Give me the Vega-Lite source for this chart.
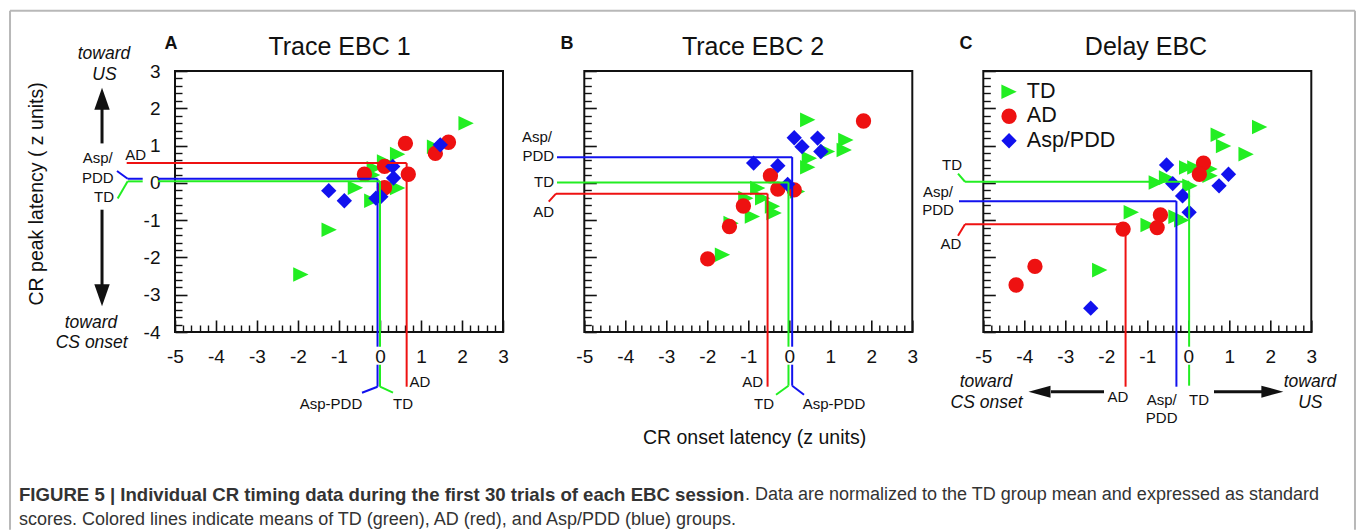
{
  "$schema": "https://vega.github.io/schema/vega-lite/v6.json",
  "background": "white",
  "autosize": {"type": "pad"},
  "padding": {"left": 8, "top": 8, "right": 0, "bottom": 0},
  "config": {
    "font": "Liberation Sans",
    "view": {"stroke": "#111", "strokeWidth": 2},
    "axis": {"grid": false, "domain": false, "labelColor": "#111", "tickColor": "#111", "titleColor": "#111", "titleFontWeight": "normal"}
  },
  "datasets": {
    "ptsA": [
      {"group": "TD", "onset": 2.10, "peak": 1.60}, {"group": "TD", "onset": -1.93, "peak": -2.46}, {"group": "TD", "onset": -1.24, "peak": -1.26},
      {"group": "TD", "onset": -0.60, "peak": -0.13}, {"group": "TD", "onset": -0.20, "peak": -0.48}, {"group": "TD", "onset": -0.14, "peak": 0.39},
      {"group": "TD", "onset": 0.11, "peak": 0.57}, {"group": "TD", "onset": 0.43, "peak": 0.77}, {"group": "TD", "onset": 0.43, "peak": -0.14},
      {"group": "TD", "onset": 1.33, "peak": 0.97}, {"group": "TD", "onset": -0.18, "peak": 0.21},
      {"group": "AD", "onset": 0.62, "peak": 1.06}, {"group": "AD", "onset": 1.67, "peak": 1.09}, {"group": "AD", "onset": 1.35, "peak": 0.79},
      {"group": "AD", "onset": -0.38, "peak": 0.23}, {"group": "AD", "onset": 0.11, "peak": 0.44}, {"group": "AD", "onset": 0.69, "peak": 0.23},
      {"group": "AD", "onset": 0.11, "peak": -0.13},
      {"group": "Asp/PDD", "onset": 1.47, "peak": 1.02}, {"group": "Asp/PDD", "onset": 0.31, "peak": 0.44}, {"group": "Asp/PDD", "onset": 0.33, "peak": 0.13},
      {"group": "Asp/PDD", "onset": -1.25, "peak": -0.21}, {"group": "Asp/PDD", "onset": -0.87, "peak": -0.48}, {"group": "Asp/PDD", "onset": -0.10, "peak": -0.41},
      {"group": "Asp/PDD", "onset": 0.02, "peak": -0.37}
    ],
    "ptsB": [
      {"group": "TD", "onset": 0.45, "peak": 1.69}, {"group": "TD", "onset": 1.38, "peak": 1.15}, {"group": "TD", "onset": 1.34, "peak": 0.88},
      {"group": "TD", "onset": 0.93, "peak": 0.84}, {"group": "TD", "onset": 0.49, "peak": 0.66}, {"group": "TD", "onset": 0.45, "peak": 0.42},
      {"group": "TD", "onset": -0.77, "peak": -0.14}, {"group": "TD", "onset": -1.06, "peak": -0.41}, {"group": "TD", "onset": -0.65, "peak": -0.41},
      {"group": "TD", "onset": -0.41, "peak": -0.63}, {"group": "TD", "onset": -0.37, "peak": -0.81}, {"group": "TD", "onset": -0.90, "peak": -0.90},
      {"group": "TD", "onset": -1.42, "peak": -1.08}, {"group": "TD", "onset": -1.63, "peak": -1.93}, {"group": "TD", "onset": 0.20, "peak": -0.23},
      {"group": "AD", "onset": 1.81, "peak": 1.66}, {"group": "AD", "onset": -0.46, "peak": 0.19}, {"group": "AD", "onset": -0.28, "peak": -0.17},
      {"group": "AD", "onset": 0.12, "peak": -0.19}, {"group": "AD", "onset": -1.12, "peak": -0.62}, {"group": "AD", "onset": -1.46, "peak": -1.17},
      {"group": "AD", "onset": -1.99, "peak": -2.04},
      {"group": "Asp/PDD", "onset": 0.12, "peak": 1.21}, {"group": "Asp/PDD", "onset": 0.31, "peak": 0.97}, {"group": "Asp/PDD", "onset": 0.69, "peak": 1.20},
      {"group": "Asp/PDD", "onset": 0.77, "peak": 0.84}, {"group": "Asp/PDD", "onset": -0.87, "peak": 0.53}, {"group": "Asp/PDD", "onset": -0.28, "peak": 0.46},
      {"group": "Asp/PDD", "onset": -0.04, "peak": -0.04}
    ],
    "ptsC": [
      {"group": "TD", "onset": 1.74, "peak": 1.50}, {"group": "TD", "onset": 0.73, "peak": 1.29}, {"group": "TD", "onset": 0.86, "peak": 0.99},
      {"group": "TD", "onset": 1.41, "peak": 0.77}, {"group": "TD", "onset": -0.04, "peak": 0.41}, {"group": "TD", "onset": 0.16, "peak": 0.41},
      {"group": "TD", "onset": 0.53, "peak": 0.37}, {"group": "TD", "onset": 0.53, "peak": 0.19}, {"group": "TD", "onset": -0.78, "peak": 0.01},
      {"group": "TD", "onset": -0.53, "peak": 0.14}, {"group": "TD", "onset": 0.04, "peak": -0.08}, {"group": "TD", "onset": -1.39, "peak": -0.79},
      {"group": "TD", "onset": -0.98, "peak": -1.13}, {"group": "TD", "onset": -0.30, "peak": -0.91}, {"group": "TD", "onset": -0.16, "peak": -1.00},
      {"group": "TD", "onset": -2.16, "peak": -2.34},
      {"group": "AD", "onset": 0.37, "peak": 0.53}, {"group": "AD", "onset": 0.27, "peak": 0.23}, {"group": "AD", "onset": -0.68, "peak": -0.86},
      {"group": "AD", "onset": -0.76, "peak": -1.20}, {"group": "AD", "onset": -1.59, "peak": -1.24}, {"group": "AD", "onset": -3.74, "peak": -2.24},
      {"group": "AD", "onset": -4.20, "peak": -2.74},
      {"group": "Asp/PDD", "onset": -0.53, "peak": 0.48}, {"group": "Asp/PDD", "onset": -0.38, "peak": -0.02}, {"group": "Asp/PDD", "onset": -0.14, "peak": -0.35},
      {"group": "Asp/PDD", "onset": 0.02, "peak": -0.79}, {"group": "Asp/PDD", "onset": 0.98, "peak": 0.23}, {"group": "Asp/PDD", "onset": 0.75, "peak": -0.08},
      {"group": "Asp/PDD", "onset": -2.38, "peak": -3.36}
    ],
    "linesA": [
      {"group": "AD", "x": -6.178, "y": 0.53, "x2": 0.65, "y2": 0.53},
      {"group": "AD", "x": 0.65, "y": 0.53, "x2": 0.65, "y2": -5.467},
      {"group": "Asp/PDD", "x": -6.415, "y": 0.318, "x2": -6.154, "y2": 0.11},
      {"group": "Asp/PDD", "x": -6.154, "y": 0.11, "x2": -5.788, "y2": 0.11},
      {"group": "Asp/PDD", "x": -5.415, "y": 0.11, "x2": -0.06, "y2": 0.11},
      {"group": "Asp/PDD", "x": -0.06, "y": 0.11, "x2": -0.06, "y2": -4.394},
      {"group": "Asp/PDD", "x": -0.06, "y": -4.877, "x2": -0.06, "y2": -5.467},
      {"group": "Asp/PDD", "x": -0.06, "y": -5.467, "x2": -0.439, "y2": -5.628},
      {"group": "TD", "x": -6.398, "y": -0.417, "x2": -6.154, "y2": 0.04},
      {"group": "TD", "x": -6.154, "y": 0.04, "x2": -5.788, "y2": 0.04},
      {"group": "TD", "x": -5.415, "y": 0.04, "x2": 0.0, "y2": 0.04},
      {"group": "TD", "x": 0.0, "y": 0.04, "x2": 0.0, "y2": -4.394},
      {"group": "TD", "x": 0.0, "y": -4.877, "x2": 0.0, "y2": -5.467},
      {"group": "TD", "x": 0.0, "y": -5.467, "x2": 0.317, "y2": -5.628}
    ],
    "linesB": [
      {"group": "Asp/PDD", "x": -5.666, "y": 0.69, "x2": 0.07, "y2": 0.69},
      {"group": "Asp/PDD", "x": 0.07, "y": 0.69, "x2": 0.07, "y2": -4.394},
      {"group": "Asp/PDD", "x": 0.07, "y": -4.877, "x2": 0.07, "y2": -5.44},
      {"group": "Asp/PDD", "x": 0.07, "y": -5.44, "x2": 0.359, "y2": -5.682},
      {"group": "TD", "x": -5.666, "y": 0.01, "x2": -0.02, "y2": 0.01},
      {"group": "TD", "x": -0.02, "y": 0.01, "x2": -0.02, "y2": -4.394},
      {"group": "TD", "x": -0.02, "y": -4.877, "x2": -0.02, "y2": -5.44},
      {"group": "TD", "x": -0.02, "y": -5.44, "x2": -0.324, "y2": -5.682},
      {"group": "AD", "x": -5.868, "y": -0.505, "x2": -5.69, "y2": -0.29},
      {"group": "AD", "x": -5.69, "y": -0.29, "x2": -0.53, "y2": -0.29},
      {"group": "AD", "x": -0.53, "y": -0.29, "x2": -0.53, "y2": -5.467}
    ],
    "linesC": [
      {"group": "TD", "x": -5.617, "y": 0.246, "x2": -5.446, "y2": 0.03},
      {"group": "TD", "x": -5.446, "y": 0.03, "x2": 0.02, "y2": 0.03},
      {"group": "TD", "x": 0.02, "y": 0.03, "x2": 0.02, "y2": -4.394},
      {"group": "TD", "x": 0.02, "y": -4.877, "x2": 0.02, "y2": -5.44},
      {"group": "Asp/PDD", "x": -5.593, "y": -0.49, "x2": -0.29, "y2": -0.49},
      {"group": "Asp/PDD", "x": -0.29, "y": -0.49, "x2": -0.29, "y2": -5.467},
      {"group": "AD", "x": -5.617, "y": -1.417, "x2": -5.446, "y2": -1.11},
      {"group": "AD", "x": -5.446, "y": -1.11, "x2": -1.53, "y2": -1.11},
      {"group": "AD", "x": -1.53, "y": -1.11, "x2": -1.53, "y2": -5.467}
    ],
    "textA": [
      {"label": "AD", "x": -5.961, "y": 0.755}, {"label": "Asp/", "x": -6.885, "y": 0.656}, {"label": "PDD", "x": -6.885, "y": 0.138},
      {"label": "TD", "x": -6.732, "y": -0.371}, {"label": "AD", "x": 0.976, "y": -5.333}, {"label": "Asp-PDD", "x": -1.195, "y": -5.923},
      {"label": "TD", "x": 0.561, "y": -5.923}
    ],
    "italA": [
      {"label": "toward", "x": -6.732, "y": 3.464}, {"label": "US", "x": -6.72, "y": 2.901},
      {"label": "toward", "x": -7.049, "y": -3.769}, {"label": "CS onset", "x": -7.032, "y": -4.306}
    ],
    "letterA": [{"label": "A", "x": -5.098, "y": 3.732}],
    "headA": [{"label": "Trace EBC 1", "x": -0.988, "y": 3.652}],
    "shaftA": [{"x": -6.78, "y": 1.058, "x2": -6.78, "y2": 2.016}, {"x": -6.78, "y": -0.72, "x2": -6.78, "y2": -2.758}],
    "headUpA": [{"x": -6.78, "y": 2.257}],
    "headDownA": [{"x": -6.78, "y": -3.013}],
    "frame": [
      {"x": -9.024, "y": 4.617, "x2": -9.024, "y2": -9.302},
      {"x": -9.024, "y": 4.617, "x2": 23.78, "y2": 4.617},
      {"x": 23.78, "y": 4.617, "x2": 23.78, "y2": -9.302}
    ],
    "capBold": [{"label": "FIGURE 5 | Individual CR timing data during the first 30 trials of each EBC session", "x": -8.805, "y": -8.364}],
    "capNormal": [
      {"label": ". Data are normalized to the TD group mean and expressed as standard", "x": 8.902, "y": -8.364},
      {"label": "scores. Colored lines indicate means of TD (green), AD (red), and Asp/PDD (blue) groups.", "x": -8.805, "y": -9.034}
    ],
    "textB": [
      {"label": "Asp/", "x": -6.154, "y": 1.238}, {"label": "PDD", "x": -6.124, "y": 0.728}, {"label": "TD", "x": -5.983, "y": 0.012},
      {"label": "AD", "x": -5.993, "y": -0.774}, {"label": "AD", "x": -0.895, "y": -5.333}, {"label": "TD", "x": -0.617, "y": -5.923},
      {"label": "Asp-PDD", "x": 1.09, "y": -5.923}
    ],
    "letterB": [{"label": "B", "x": -5.422, "y": 3.732}],
    "headB": [{"label": "Trace EBC 2", "x": -0.885, "y": 3.652}],
    "textC": [
      {"label": "TD", "x": -5.763, "y": 0.487}, {"label": "Asp/", "x": -6.105, "y": -0.237}, {"label": "PDD", "x": -6.105, "y": -0.72},
      {"label": "AD", "x": -5.788, "y": -1.632}, {"label": "AD", "x": -1.715, "y": -5.735}, {"label": "Asp/", "x": -0.649, "y": -5.816},
      {"label": "PDD", "x": -0.649, "y": -6.317}, {"label": "TD", "x": 0.261, "y": -5.816}
    ],
    "italC": [
      {"label": "toward", "x": -4.934, "y": -5.333}, {"label": "CS onset", "x": -4.922, "y": -5.896},
      {"label": "toward", "x": 2.968, "y": -5.333}, {"label": "US", "x": 2.976, "y": -5.896}
    ],
    "letterC": [{"label": "C", "x": -5.422, "y": 3.732}],
    "headC": [{"label": "Delay EBC", "x": -1.032, "y": 3.652}],
    "shaftC": [{"x": -2.056, "y": -5.601, "x2": -3.349, "y2": -5.601}, {"x": 0.627, "y": -5.601, "x2": 1.798, "y2": -5.601}],
    "headLeftC": [{"x": -3.629, "y": -5.601}],
    "headRightC": [{"x": 2.05, "y": -5.601}]
  },
  "bounds": "flush",
  "spacing": 81.3,
  "resolve": {"scale": {"color": "independent", "shape": "independent"}},
  "hconcat": [
    {
      "width": 328, "height": 261,
      "resolve": {"axis": {"x": "independent", "y": "independent"}},
      "layer": [
        {
          "data": {"name": "ptsA"},
          "mark": {"type": "point", "filled": true, "opacity": 1, "strokeWidth": 0, "size": 235},
          "encoding": {
            "x": {"field": "onset", "type": "quantitative", "scale": {"domain": [-5, 3], "nice": false, "zero": false},
              "axis": {"orient": "bottom", "values": [-5, -4, -3, -2, -1, 0, 1, 2, 3], "ticks": false, "tickSize": 0, "labelFontSize": 19, "labelPadding": 15, "labelFlush": false, "labelOverlap": false, "labelExpr": "toString(datum.value)", "title": null}},
            "y": {"field": "peak", "type": "quantitative", "scale": {"domain": [-4, 3], "nice": false, "zero": false},
              "axis": {"orient": "left", "values": [-4, -3, -2, -1, 0, 1, 2, 3], "ticks": false, "tickSize": 0, "labelFontSize": 19, "labelPadding": 15, "labelFlush": false, "labelOverlap": false, "labelExpr": "toString(datum.value)",
                "title": "CR peak latency ( z units)", "titleFontSize": 19.5, "titleX": -139, "titleY": 122.4, "titleAngle": 270, "titleAlign": "center", "titleBaseline": "middle"}},
            "color": {"field": "group", "type": "nominal", "scale": {"domain": ["TD", "AD", "Asp/PDD"], "range": ["#22ee22", "#ee1111", "#1111ee"]}, "legend": null},
            "shape": {"field": "group", "type": "nominal", "scale": {"domain": ["TD", "AD", "Asp/PDD"], "range": ["M-1,-0.95L1,0L-1,0.95Z", "circle", "diamond"]}, "legend": null}
          }
        },
        {
          "data": {"name": "linesA"},
          "mark": {"type": "rule", "strokeWidth": 2},
          "encoding": {
            "x": {"field": "x", "type": "quantitative", "scale": {"domain": [-5, 3], "nice": false, "zero": false},
              "axis": {"orient": "bottom", "values": [-5, -4, -3, -2, -1, 0, 1, 2, 3], "labels": false, "tickSize": -12, "tickWidth": 1.6, "title": null}},
            "y": {"field": "y", "type": "quantitative", "scale": {"domain": [-4, 3], "nice": false, "zero": false},
              "axis": {"orient": "left", "values": [-4, -3, -2, -1, 0, 1, 2, 3], "labels": false, "tickSize": -12, "tickWidth": 1.6, "title": null}},
            "x2": {"field": "x2"}, "y2": {"field": "y2"},
            "color": {"field": "group", "type": "nominal", "scale": {"domain": ["TD", "AD", "Asp/PDD"], "range": ["#22ee22", "#ee1111", "#1111ee"]}, "legend": null}
          }
        },
        {
          "data": {"name": "textA"},
          "mark": {"type": "text", "fontSize": 15, "color": "#111", "align": "center", "baseline": "middle"},
          "encoding": {
            "x": {"field": "x", "type": "quantitative", "scale": {"domain": [-5, 3], "nice": false, "zero": false},
              "axis": {"orient": "bottom", "values": [-4.8, -4.6, -4.4, -4.2, -3.8, -3.6, -3.4, -3.2, -2.8, -2.6, -2.4, -2.2, -1.8, -1.6, -1.4, -1.2, -0.8, -0.6, -0.4, -0.2, 0.2, 0.4, 0.6, 0.8, 1.2, 1.4, 1.6, 1.8, 2.2, 2.4, 2.6, 2.8], "labels": false, "tickSize": -7, "tickWidth": 1.4, "title": null}},
            "y": {"field": "y", "type": "quantitative", "scale": {"domain": [-4, 3], "nice": false, "zero": false},
              "axis": {"orient": "left", "values": [-3.8, -3.6, -3.4, -3.2, -2.8, -2.6, -2.4, -2.2, -1.8, -1.6, -1.4, -1.2, -0.8, -0.6, -0.4, -0.2, 0.2, 0.4, 0.6, 0.8, 1.2, 1.4, 1.6, 1.8, 2.2, 2.4, 2.6, 2.8], "labels": false, "tickSize": -7, "tickWidth": 1.4, "title": null}},
            "text": {"field": "label"}
          }
        },
        {
          "data": {"name": "italA"},
          "mark": {"type": "text", "fontSize": 17.5, "fontStyle": "italic", "color": "#111"},
          "encoding": {
            "x": {"field": "x", "type": "quantitative", "scale": {"domain": [-5, 3], "nice": false, "zero": false}, "axis": null},
            "y": {"field": "y", "type": "quantitative", "scale": {"domain": [-4, 3], "nice": false, "zero": false}, "axis": null},
            "text": {"field": "label"}
          }
        },
        {
          "data": {"name": "letterA"},
          "mark": {"type": "text", "fontSize": 18, "fontWeight": "bold", "color": "#111"},
          "encoding": {
            "x": {"field": "x", "type": "quantitative", "scale": {"domain": [-5, 3], "nice": false, "zero": false}, "axis": null},
            "y": {"field": "y", "type": "quantitative", "scale": {"domain": [-4, 3], "nice": false, "zero": false}, "axis": null},
            "text": {"field": "label"}
          }
        },
        {
          "data": {"name": "headA"},
          "mark": {"type": "text", "fontSize": 25, "color": "#111"},
          "encoding": {
            "x": {"field": "x", "type": "quantitative", "scale": {"domain": [-5, 3], "nice": false, "zero": false}, "axis": null},
            "y": {"field": "y", "type": "quantitative", "scale": {"domain": [-4, 3], "nice": false, "zero": false}, "axis": null},
            "text": {"field": "label"}
          }
        },
        {
          "data": {"name": "shaftA"},
          "mark": {"type": "rule", "strokeWidth": 3, "color": "#111"},
          "encoding": {
            "x": {"field": "x", "type": "quantitative", "scale": {"domain": [-5, 3], "nice": false, "zero": false}, "axis": null},
            "y": {"field": "y", "type": "quantitative", "scale": {"domain": [-4, 3], "nice": false, "zero": false}, "axis": null},
            "x2": {"field": "x2"}, "y2": {"field": "y2"}
          }
        },
        {
          "data": {"name": "headUpA"},
          "mark": {"type": "point", "filled": true, "opacity": 1, "strokeWidth": 0, "color": "#111", "size": 484, "shape": "M-0.7,1L0,-1L0.7,1Z"},
          "encoding": {
            "x": {"field": "x", "type": "quantitative", "scale": {"domain": [-5, 3], "nice": false, "zero": false}, "axis": null},
            "y": {"field": "y", "type": "quantitative", "scale": {"domain": [-4, 3], "nice": false, "zero": false}, "axis": null}
          }
        },
        {
          "data": {"name": "headDownA"},
          "mark": {"type": "point", "filled": true, "opacity": 1, "strokeWidth": 0, "color": "#111", "size": 484, "shape": "M-0.7,-1L0,1L0.7,-1Z"},
          "encoding": {
            "x": {"field": "x", "type": "quantitative", "scale": {"domain": [-5, 3], "nice": false, "zero": false}, "axis": null},
            "y": {"field": "y", "type": "quantitative", "scale": {"domain": [-4, 3], "nice": false, "zero": false}, "axis": null}
          }
        },
        {
          "data": {"name": "frame"},
          "mark": {"type": "rule", "strokeWidth": 2, "color": "#b8b8b8"},
          "encoding": {
            "x": {"field": "x", "type": "quantitative", "scale": {"domain": [-5, 3], "nice": false, "zero": false}, "axis": null},
            "y": {"field": "y", "type": "quantitative", "scale": {"domain": [-4, 3], "nice": false, "zero": false}, "axis": null},
            "x2": {"field": "x2"}, "y2": {"field": "y2"}
          }
        },
        {
          "data": {"name": "capBold"},
          "mark": {"type": "text", "fontSize": 18.6, "fontWeight": "bold", "color": "#333", "align": "left"},
          "encoding": {
            "x": {"field": "x", "type": "quantitative", "scale": {"domain": [-5, 3], "nice": false, "zero": false}, "axis": null},
            "y": {"field": "y", "type": "quantitative", "scale": {"domain": [-4, 3], "nice": false, "zero": false}, "axis": null},
            "text": {"field": "label"}
          }
        },
        {
          "data": {"name": "capNormal"},
          "mark": {"type": "text", "fontSize": 18, "color": "#333", "align": "left"},
          "encoding": {
            "x": {"field": "x", "type": "quantitative", "scale": {"domain": [-5, 3], "nice": false, "zero": false}, "axis": null},
            "y": {"field": "y", "type": "quantitative", "scale": {"domain": [-4, 3], "nice": false, "zero": false}, "axis": null},
            "text": {"field": "label"}
          }
        }
      ]
    },
    {
      "bounds": "flush",
      "spacing": 71,
      "resolve": {"scale": {"color": "independent", "shape": "independent"}},
      "hconcat": [
        {
          "width": 328, "height": 261,
          "resolve": {"axis": {"x": "independent", "y": "independent"}},
          "layer": [
            {
              "data": {"name": "ptsB"},
              "mark": {"type": "point", "filled": true, "opacity": 1, "strokeWidth": 0, "size": 235},
              "encoding": {
                "x": {"field": "onset", "type": "quantitative", "scale": {"domain": [-5, 3], "nice": false, "zero": false},
                  "axis": {"orient": "bottom", "values": [-5, -4, -3, -2, -1, 0, 1, 2, 3], "ticks": false, "tickSize": 0, "labelFontSize": 19, "labelPadding": 15, "labelFlush": false, "labelOverlap": false, "labelExpr": "toString(datum.value)",
                    "title": "CR onset latency (z units)", "titleFontSize": 19.5, "titleX": 169.7, "titleY": 105.7, "titleAlign": "center", "titleBaseline": "middle"}},
                "y": {"field": "peak", "type": "quantitative", "scale": {"domain": [-4, 3], "nice": false, "zero": false}, "axis": null},
                "color": {"field": "group", "type": "nominal", "scale": {"domain": ["TD", "AD", "Asp/PDD"], "range": ["#22ee22", "#ee1111", "#1111ee"]}, "legend": null},
                "shape": {"field": "group", "type": "nominal", "scale": {"domain": ["TD", "AD", "Asp/PDD"], "range": ["M-1,-0.95L1,0L-1,0.95Z", "circle", "diamond"]}, "legend": null}
              }
            },
            {
              "data": {"name": "linesB"},
              "mark": {"type": "rule", "strokeWidth": 2},
              "encoding": {
                "x": {"field": "x", "type": "quantitative", "scale": {"domain": [-5, 3], "nice": false, "zero": false},
                  "axis": {"orient": "bottom", "values": [-5, -4, -3, -2, -1, 0, 1, 2, 3], "labels": false, "tickSize": -12, "tickWidth": 1.6, "title": null}},
                "y": {"field": "y", "type": "quantitative", "scale": {"domain": [-4, 3], "nice": false, "zero": false},
                  "axis": {"orient": "left", "values": [-4, -3, -2, -1, 0, 1, 2, 3], "labels": false, "tickSize": -12, "tickWidth": 1.6, "title": null}},
                "x2": {"field": "x2"}, "y2": {"field": "y2"},
                "color": {"field": "group", "type": "nominal", "scale": {"domain": ["TD", "AD", "Asp/PDD"], "range": ["#22ee22", "#ee1111", "#1111ee"]}, "legend": null}
              }
            },
            {
              "data": {"name": "textB"},
              "mark": {"type": "text", "fontSize": 15, "color": "#111", "align": "center", "baseline": "middle"},
              "encoding": {
                "x": {"field": "x", "type": "quantitative", "scale": {"domain": [-5, 3], "nice": false, "zero": false},
                  "axis": {"orient": "bottom", "values": [-4.8, -4.6, -4.4, -4.2, -3.8, -3.6, -3.4, -3.2, -2.8, -2.6, -2.4, -2.2, -1.8, -1.6, -1.4, -1.2, -0.8, -0.6, -0.4, -0.2, 0.2, 0.4, 0.6, 0.8, 1.2, 1.4, 1.6, 1.8, 2.2, 2.4, 2.6, 2.8], "labels": false, "tickSize": -7, "tickWidth": 1.4, "title": null}},
                "y": {"field": "y", "type": "quantitative", "scale": {"domain": [-4, 3], "nice": false, "zero": false},
                  "axis": {"orient": "left", "values": [-3.8, -3.6, -3.4, -3.2, -2.8, -2.6, -2.4, -2.2, -1.8, -1.6, -1.4, -1.2, -0.8, -0.6, -0.4, -0.2, 0.2, 0.4, 0.6, 0.8, 1.2, 1.4, 1.6, 1.8, 2.2, 2.4, 2.6, 2.8], "labels": false, "tickSize": -7, "tickWidth": 1.4, "title": null}},
                "text": {"field": "label"}
              }
            },
            {
              "data": {"name": "letterB"},
              "mark": {"type": "text", "fontSize": 18, "fontWeight": "bold", "color": "#111"},
              "encoding": {
                "x": {"field": "x", "type": "quantitative", "scale": {"domain": [-5, 3], "nice": false, "zero": false}, "axis": null},
                "y": {"field": "y", "type": "quantitative", "scale": {"domain": [-4, 3], "nice": false, "zero": false}, "axis": null},
                "text": {"field": "label"}
              }
            },
            {
              "data": {"name": "headB"},
              "mark": {"type": "text", "fontSize": 25, "color": "#111"},
              "encoding": {
                "x": {"field": "x", "type": "quantitative", "scale": {"domain": [-5, 3], "nice": false, "zero": false}, "axis": null},
                "y": {"field": "y", "type": "quantitative", "scale": {"domain": [-4, 3], "nice": false, "zero": false}, "axis": null},
                "text": {"field": "label"}
              }
            }
          ]
        },
        {
          "width": 328, "height": 261,
          "resolve": {"axis": {"x": "independent", "y": "independent"}},
          "layer": [
            {
              "data": {"name": "ptsC"},
              "mark": {"type": "point", "filled": true, "opacity": 1, "strokeWidth": 0, "size": 235},
              "encoding": {
                "x": {"field": "onset", "type": "quantitative", "scale": {"domain": [-5, 3], "nice": false, "zero": false},
                  "axis": {"orient": "bottom", "values": [-5, -4, -3, -2, -1, 0, 1, 2, 3], "ticks": false, "tickSize": 0, "labelFontSize": 19, "labelPadding": 15, "labelFlush": false, "labelOverlap": false, "labelExpr": "toString(datum.value)", "title": null}},
                "y": {"field": "peak", "type": "quantitative", "scale": {"domain": [-4, 3], "nice": false, "zero": false}, "axis": null},
                "color": {"field": "group", "type": "nominal", "scale": {"domain": ["TD", "AD", "Asp/PDD"], "range": ["#22ee22", "#ee1111", "#1111ee"]},
                  "legend": {"orient": "none", "legendX": 15, "legendY": 10, "title": null, "labelFontSize": 21.5, "labelColor": "#111", "symbolSize": 235, "labelOffset": 7, "rowPadding": 1.5, "padding": 0, "symbolStrokeWidth": 0}},
                "shape": {"field": "group", "type": "nominal", "scale": {"domain": ["TD", "AD", "Asp/PDD"], "range": ["M-1,-0.95L1,0L-1,0.95Z", "circle", "diamond"]},
                  "legend": {"orient": "none", "legendX": 15, "legendY": 10, "title": null, "labelFontSize": 21.5, "labelColor": "#111", "symbolSize": 235, "labelOffset": 7, "rowPadding": 1.5, "padding": 0, "symbolStrokeWidth": 0}}
              }
            },
            {
              "data": {"name": "linesC"},
              "mark": {"type": "rule", "strokeWidth": 2},
              "encoding": {
                "x": {"field": "x", "type": "quantitative", "scale": {"domain": [-5, 3], "nice": false, "zero": false},
                  "axis": {"orient": "bottom", "values": [-5, -4, -3, -2, -1, 0, 1, 2, 3], "labels": false, "tickSize": -12, "tickWidth": 1.6, "title": null}},
                "y": {"field": "y", "type": "quantitative", "scale": {"domain": [-4, 3], "nice": false, "zero": false},
                  "axis": {"orient": "left", "values": [-4, -3, -2, -1, 0, 1, 2, 3], "labels": false, "tickSize": -12, "tickWidth": 1.6, "title": null}},
                "x2": {"field": "x2"}, "y2": {"field": "y2"},
                "color": {"field": "group", "type": "nominal", "scale": {"domain": ["TD", "AD", "Asp/PDD"], "range": ["#22ee22", "#ee1111", "#1111ee"]}, "legend": null}
              }
            },
            {
              "data": {"name": "textC"},
              "mark": {"type": "text", "fontSize": 15, "color": "#111", "align": "center", "baseline": "middle"},
              "encoding": {
                "x": {"field": "x", "type": "quantitative", "scale": {"domain": [-5, 3], "nice": false, "zero": false},
                  "axis": {"orient": "bottom", "values": [-4.8, -4.6, -4.4, -4.2, -3.8, -3.6, -3.4, -3.2, -2.8, -2.6, -2.4, -2.2, -1.8, -1.6, -1.4, -1.2, -0.8, -0.6, -0.4, -0.2, 0.2, 0.4, 0.6, 0.8, 1.2, 1.4, 1.6, 1.8, 2.2, 2.4, 2.6, 2.8], "labels": false, "tickSize": -7, "tickWidth": 1.4, "title": null}},
                "y": {"field": "y", "type": "quantitative", "scale": {"domain": [-4, 3], "nice": false, "zero": false},
                  "axis": {"orient": "left", "values": [-3.8, -3.6, -3.4, -3.2, -2.8, -2.6, -2.4, -2.2, -1.8, -1.6, -1.4, -1.2, -0.8, -0.6, -0.4, -0.2, 0.2, 0.4, 0.6, 0.8, 1.2, 1.4, 1.6, 1.8, 2.2, 2.4, 2.6, 2.8], "labels": false, "tickSize": -7, "tickWidth": 1.4, "title": null}},
                "text": {"field": "label"}
              }
            },
            {
              "data": {"name": "italC"},
              "mark": {"type": "text", "fontSize": 17.5, "fontStyle": "italic", "color": "#111"},
              "encoding": {
                "x": {"field": "x", "type": "quantitative", "scale": {"domain": [-5, 3], "nice": false, "zero": false}, "axis": null},
                "y": {"field": "y", "type": "quantitative", "scale": {"domain": [-4, 3], "nice": false, "zero": false}, "axis": null},
                "text": {"field": "label"}
              }
            },
            {
              "data": {"name": "letterC"},
              "mark": {"type": "text", "fontSize": 18, "fontWeight": "bold", "color": "#111"},
              "encoding": {
                "x": {"field": "x", "type": "quantitative", "scale": {"domain": [-5, 3], "nice": false, "zero": false}, "axis": null},
                "y": {"field": "y", "type": "quantitative", "scale": {"domain": [-4, 3], "nice": false, "zero": false}, "axis": null},
                "text": {"field": "label"}
              }
            },
            {
              "data": {"name": "headC"},
              "mark": {"type": "text", "fontSize": 25, "color": "#111"},
              "encoding": {
                "x": {"field": "x", "type": "quantitative", "scale": {"domain": [-5, 3], "nice": false, "zero": false}, "axis": null},
                "y": {"field": "y", "type": "quantitative", "scale": {"domain": [-4, 3], "nice": false, "zero": false}, "axis": null},
                "text": {"field": "label"}
              }
            },
            {
              "data": {"name": "shaftC"},
              "mark": {"type": "rule", "strokeWidth": 3, "color": "#111"},
              "encoding": {
                "x": {"field": "x", "type": "quantitative", "scale": {"domain": [-5, 3], "nice": false, "zero": false}, "axis": null},
                "y": {"field": "y", "type": "quantitative", "scale": {"domain": [-4, 3], "nice": false, "zero": false}, "axis": null},
                "x2": {"field": "x2"}, "y2": {"field": "y2"}
              }
            },
            {
              "data": {"name": "headLeftC"},
              "mark": {"type": "point", "filled": true, "opacity": 1, "strokeWidth": 0, "color": "#111", "size": 484, "shape": "M1,-0.55L-1,0L1,0.55Z"},
              "encoding": {
                "x": {"field": "x", "type": "quantitative", "scale": {"domain": [-5, 3], "nice": false, "zero": false}, "axis": null},
                "y": {"field": "y", "type": "quantitative", "scale": {"domain": [-4, 3], "nice": false, "zero": false}, "axis": null}
              }
            },
            {
              "data": {"name": "headRightC"},
              "mark": {"type": "point", "filled": true, "opacity": 1, "strokeWidth": 0, "color": "#111", "size": 484, "shape": "M-1,-0.55L1,0L-1,0.55Z"},
              "encoding": {
                "x": {"field": "x", "type": "quantitative", "scale": {"domain": [-5, 3], "nice": false, "zero": false}, "axis": null},
                "y": {"field": "y", "type": "quantitative", "scale": {"domain": [-4, 3], "nice": false, "zero": false}, "axis": null}
              }
            }
          ]
        }
      ]
    }
  ]
}
